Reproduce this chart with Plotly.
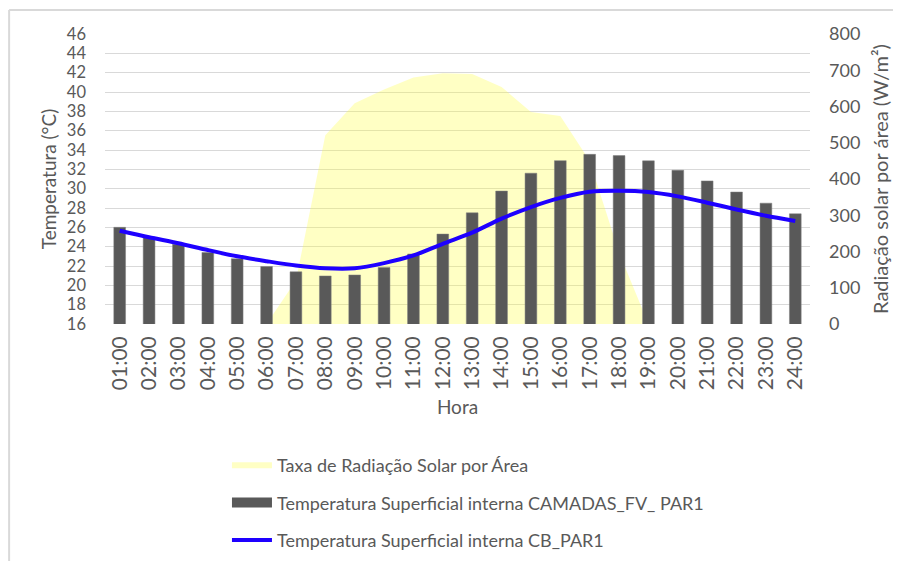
import plotly.graph_objects as go

hours = ["01:00","02:00","03:00","04:00","05:00","06:00","07:00","08:00","09:00","10:00","11:00","12:00",
         "13:00","14:00","15:00","16:00","17:00","18:00","19:00","20:00","21:00","22:00","23:00","24:00"]
radiacao = [0, 0, 0, 0, 0, 0, 120, 521, 609, 647, 680, 692, 690, 654, 585, 574, 450, 197, 0, 0, 0, 0, 0, 0]
temp_camadas = [26.0, 25.0, 24.25, 23.4, 22.75, 21.95, 21.4, 20.97, 21.07, 21.85, 23.24, 25.3,
                27.5, 29.75, 31.6, 32.9, 33.55, 33.42, 32.88, 31.9, 30.8, 29.65, 28.5, 27.4]
temp_cb = [25.65, 24.97, 24.35, 23.65, 23.0, 22.5, 22.05, 21.76, 21.76, 22.3, 23.1, 24.3,
           25.45, 26.9, 28.1, 29.05, 29.68, 29.78, 29.65, 29.2, 28.55, 27.85, 27.2, 26.65]

name_area = "Taxa de Radiação Solar por Área"
name_bar = "Temperatura Superficial interna CAMADAS_FV_ PAR1"
name_line = "Temperatura Superficial interna CB_PAR1"

FONT = "Lato"
GREY = "#595959"
BAR_COLOR = "#595959"
LINE_COLOR = "#1E00FF"

fig = go.Figure()
fig.add_trace(go.Scatter(
    x=hours, y=radiacao, name=name_area,
    mode="none", fill="tozeroy", fillcolor="rgba(255,255,60,0.30)",
    yaxis="y", legendgroup="a"))
fig.add_trace(go.Bar(
    x=hours, y=temp_camadas, name=name_bar, showlegend=False,
    marker=dict(color=BAR_COLOR, line=dict(color="#7f7f7f", width=0.5)),
    yaxis="y2", legendgroup="b"))
# legend entry for the bars drawn as a wide rectangle (as in the reference)
fig.add_trace(go.Scatter(
    x=[None], y=[None], name=name_bar, mode="lines",
    line=dict(color=BAR_COLOR, width=11), yaxis="y2", legendgroup="b", hoverinfo="skip"))
fig.add_trace(go.Scatter(
    x=hours, y=temp_cb, name=name_line,
    mode="lines", line=dict(color=LINE_COLOR, width=4, shape="spline", smoothing=0.8),
    yaxis="y2", legendgroup="c"))

fig.update_layout(
    width=893, height=600,
    margin=dict(l=97, r=91, t=26, b=284),
    paper_bgcolor="white", plot_bgcolor="white",
    font=dict(family=FONT, color=GREY, size=16),
    bargap=0.6,
    showlegend=True,
    legend=dict(x=0.173, y=-0.424, xanchor="left", yanchor="top",
                traceorder="grouped", tracegroupgap=11,
                font=dict(family=FONT, size=18, color=GREY),
                itemwidth=40, bgcolor="rgba(0,0,0,0)"),
    xaxis=dict(type="category", tickangle=-90, showgrid=False, showline=False, automargin=False,
               ticks="", tickfont=dict(size=21, color=GREY), ticklabelstandoff=7,
               title=dict(text="Hora", font=dict(size=19, color=GREY), standoff=11)),
    yaxis=dict(side="right", range=[0, 800], dtick=100, showgrid=False, zeroline=False, automargin=False,
               ticks="", tickfont=dict(size=18, color=GREY), ticklabelstandoff=18,
               title=dict(text="Radiação solar por área (W/m²)", font=dict(size=20, color=GREY), standoff=14)),
    yaxis2=dict(overlaying="y", side="left", range=[16, 46], dtick=2, showgrid=True, automargin=False,
                gridcolor="#d9d9d9", gridwidth=1, zeroline=False,
                ticks="", tickfont=dict(size=16.5, color=GREY), ticklabelstandoff=18,
                title=dict(text="Temperatura (°C)", font=dict(size=19, color=GREY), standoff=5)),
)

# outer chart border (light grey frame, cropped on right/bottom)
fig.add_shape(type="line", xref="paper", yref="paper", x0=-0.136, x1=-0.136, y0=1.083, y1=-1.1,
              line=dict(color="#d9d9d9", width=2))
fig.add_shape(type="line", xref="paper", yref="paper", x0=-0.136, x1=1.2, y0=1.083, y1=1.083,
              line=dict(color="#d9d9d9", width=2))

fig.write_html("out.html")
